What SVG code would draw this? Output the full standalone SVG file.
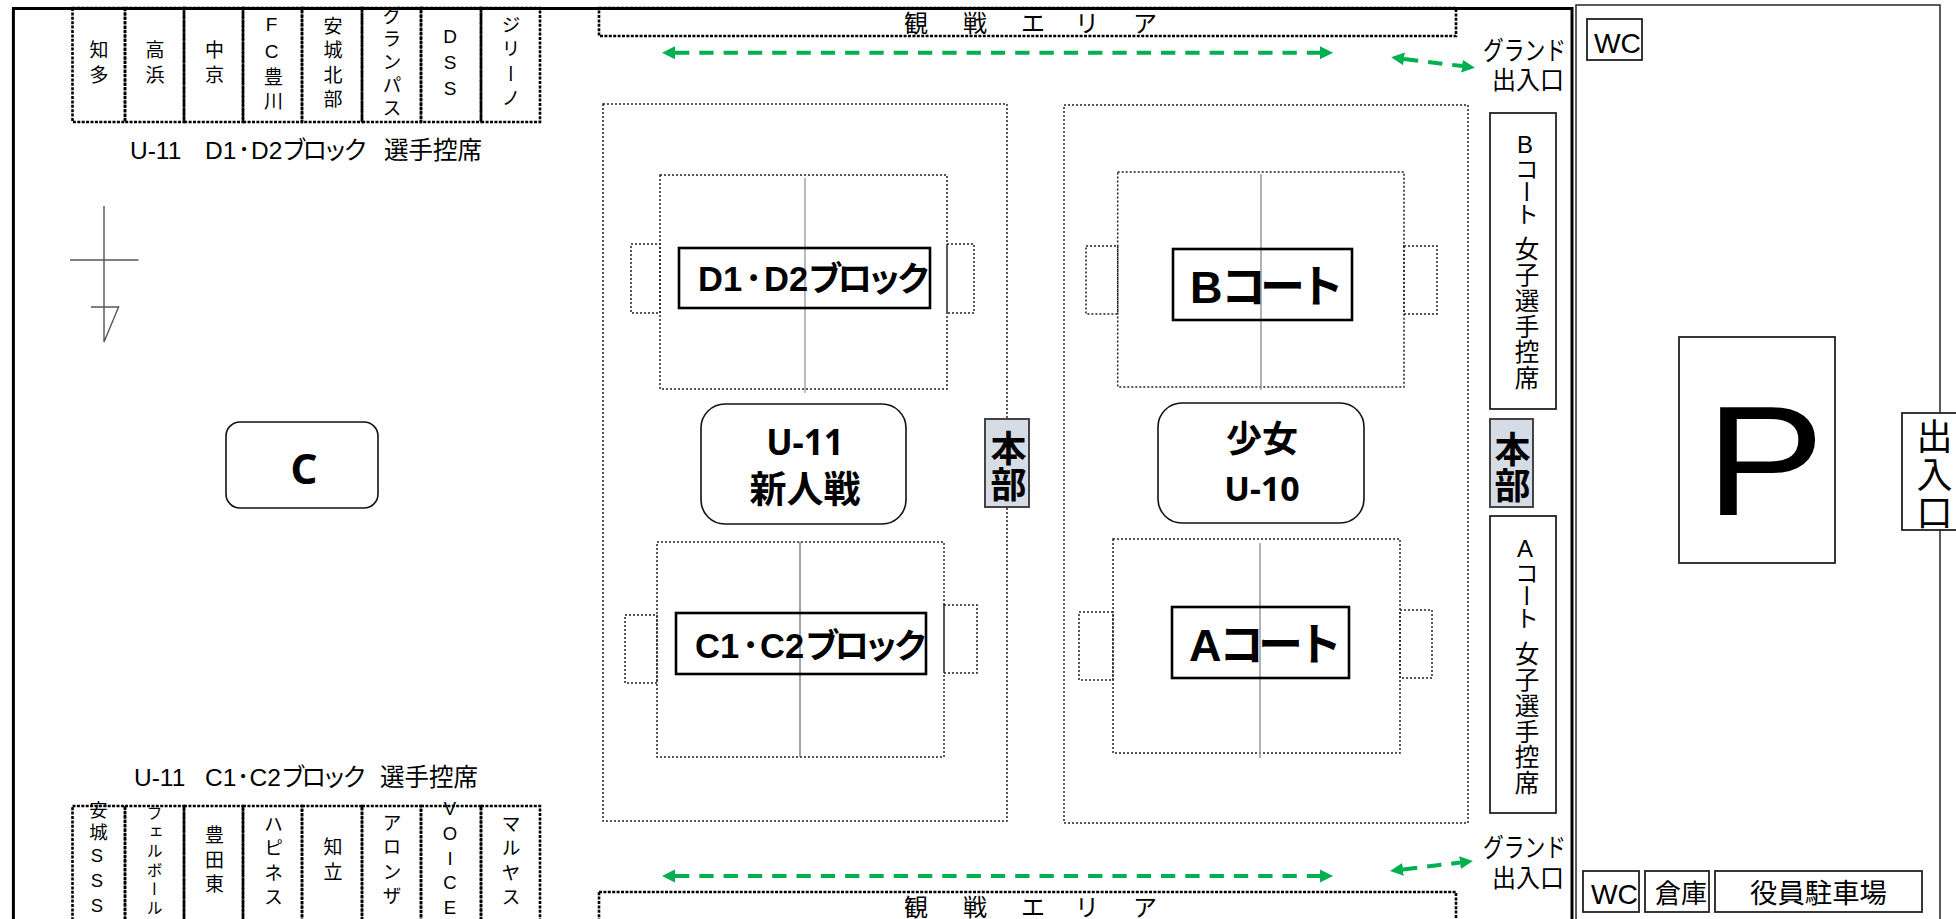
<svg xmlns="http://www.w3.org/2000/svg" width="1956" height="919" viewBox="0 0 1956 919">
<style>
text{font-family:"Liberation Sans","Noto Sans CJK JP",sans-serif;fill:#000;dominant-baseline:central;white-space:pre}
.v{writing-mode:vertical-rl;text-orientation:upright;text-anchor:middle}
.m{text-anchor:middle}
.b{font-family:"Noto Sans","Noto Sans CJK JP",sans-serif;font-weight:700}
.lb{font-weight:700}
.k{letter-spacing:-5px}
.k2{letter-spacing:-6px}
.ck{letter-spacing:-4px}
.seat{fill:none;stroke:#000;stroke-width:2.6;stroke-dasharray:3 1.4}
.fine{fill:none;stroke:#222;stroke-width:1.5;stroke-dasharray:2 2}
.solid{fill:#fff;stroke:#222;stroke-width:1.8}
.lab{fill:none;stroke:#000;stroke-width:2.6}
.hq{fill:#d6dce5;stroke:#444;stroke-width:2}
.round{fill:#fff;stroke:#111;stroke-width:1.6}
.comp{stroke:#555;stroke-width:1.4;fill:none}
.mid{stroke:#999;stroke-width:1.5}
.s{font-size:19px;letter-spacing:5.3px}
.g{stroke:#00b050;stroke-width:4;stroke-dasharray:14.3 10;fill:none;marker-start:url(#ah);marker-end:url(#ah)}
</style>
<defs>
<marker id="ah" markerUnits="userSpaceOnUse" markerWidth="14" markerHeight="14" refX="0" refY="7" orient="auto-start-reverse"><path d="M0 0.5L13 7L0 13.5Z" fill="#00b050"/></marker>
</defs>
<rect width="1956" height="919" fill="#fff"/>

<g id="parking-lot"><rect x="1576" y="5" width="364" height="950" fill="none" stroke="#333" stroke-width="1.6"/></g>

<g id="top-seat-chita"><rect class="seat" x="72.5" y="8" width="52.5" height="114"/><text class="v s" x="97" y="65">知多</text></g>
<g id="top-seat-takahama"><rect class="seat" x="125" y="8" width="59" height="114"/><text class="v s" x="153" y="65">高浜</text></g>
<g id="top-seat-chukyo"><rect class="seat" x="184" y="8" width="59" height="114"/><text class="v s" x="212.5" y="65">中京</text></g>
<g id="top-seat-fc"><rect class="seat" x="243" y="8" width="59" height="114"/><text class="v s" x="271.5" y="65">FC豊川</text></g>
<g id="top-seat-anjo"><rect class="seat" x="302" y="8" width="60" height="114"/><text class="v s" x="331" y="65">安城北部</text></g>
<g id="top-seat-grampus"><rect class="seat" x="362" y="8" width="59" height="114"/><text class="v" x="390" y="64" font-size="19" letter-spacing="4">グランパス</text></g>
<g id="top-seat-dss"><rect class="seat" x="421" y="8" width="60" height="114"/><text class="v s" x="450" y="65">DSS</text></g>
<g id="top-seat-jirino"><rect class="seat" x="481" y="8" width="59" height="114"/><text class="v s" x="509" y="64">ジリーノ</text></g>
<g id="top-caption"><text y="150" font-size="24.5"><tspan x="130">U-11</tspan><tspan x="205">D1</tspan><tspan x="238">･</tspan><tspan x="251">D2</tspan><tspan x="282" class="ck">ブロック</tspan><tspan x="384">選手控席</tspan></text></g>

<g id="compass"><path class="comp" d="M104 206V342L118.6 307H91M70 260H138.5"/></g>

<g id="node-c"><rect class="round" x="226" y="422" width="152" height="86" rx="14"/><text class="m b" x="304" y="467" font-size="42">C</text></g>

<g id="bottom-caption"><text y="777" font-size="24.5"><tspan x="134">U-11</tspan><tspan x="205">C1</tspan><tspan x="237">･</tspan><tspan x="249.5">C2</tspan><tspan x="281" class="ck">ブロック</tspan><tspan x="380">選手控席</tspan></text></g>
<g id="bot-seat-anjo"><rect class="seat" x="72.5" y="806" width="52.5" height="130"/><text class="v" x="97" y="860" font-size="18.5" letter-spacing="3.8">安城SSS</text></g>
<g id="bot-seat-ferbol"><rect class="seat" x="125" y="806" width="59" height="130"/><text class="v" x="153" y="862" font-size="16" letter-spacing="3">フェルボール</text></g>
<g id="bot-seat-toyotahigashi"><rect class="seat" x="184" y="806" width="59" height="130"/><text class="v s" x="212.5" y="862">豊田東</text></g>
<g id="bot-seat-happiness"><rect class="seat" x="243" y="806" width="59" height="130"/><text class="v s" x="271.5" y="863">ハピネス</text></g>
<g id="bot-seat-chiryu"><rect class="seat" x="302" y="806" width="60" height="130"/><text class="v s" x="331" y="862">知立</text></g>
<g id="bot-seat-alonza"><rect class="seat" x="362" y="806" width="59" height="130"/><text class="v s" x="390" y="862">アロンザ</text></g>
<g id="bot-seat-voice"><rect class="seat" x="421" y="806" width="60" height="130"/><text class="v" x="450" y="860" font-size="18.5" letter-spacing="3.8">VOICE</text></g>
<g id="bot-seat-marvas"><rect class="seat" x="481" y="806" width="59" height="130"/><text class="v s" x="509" y="863">マルヤス</text></g>

<g id="view-top"><rect class="seat" x="599" y="8" width="857" height="28"/><g font-size="24"><text class="m" x="916" y="23">観</text><text class="m" x="975" y="23">戦</text><text class="m" x="1033" y="23">エ</text><text class="m" x="1087" y="23">リ</text><text class="m" x="1145" y="23">ア</text></g></g>
<g id="view-bottom"><rect class="seat" x="599" y="892" width="857" height="40"/><g font-size="24"><text class="m" x="916" y="907">観</text><text class="m" x="975" y="907">戦</text><text class="m" x="1033" y="907">エ</text><text class="m" x="1087" y="907">リ</text><text class="m" x="1145" y="907">ア</text></g></g>

<g id="u11-panel"><rect class="fine" x="603" y="104" width="404" height="717"/></g>
<g id="women-panel"><rect class="fine" x="1064" y="105" width="404" height="718"/></g>

<g id="field-d">
<rect class="fine" x="631" y="244" width="29" height="69"/><rect class="fine" x="947" y="244" width="27" height="69"/>
<rect class="fine" x="660" y="175" width="287" height="214"/>
<path d="M805 178V393" stroke="#bbb" stroke-width="2"/>
<rect class="lab" x="679" y="248" width="251" height="60"/>
<text class="lb" y="279" font-size="34.5"><tspan x="698">D1</tspan><tspan x="745">･</tspan><tspan x="764">D2</tspan><tspan x="808" class="k">ブロック</tspan></text>
</g>
<g id="field-c">
<rect class="fine" x="625" y="615" width="32" height="68"/><rect class="fine" x="944" y="605" width="33" height="68"/>
<rect class="fine" x="657" y="542" width="287" height="215"/>
<path d="M800 542V757" stroke="#666" stroke-width="1.2"/>
<rect class="lab" x="676" y="613" width="250" height="61"/>
<text class="lb" y="646" font-size="34.5"><tspan x="695">C1</tspan><tspan x="742">･</tspan><tspan x="760">C2</tspan><tspan x="805" class="k">ブロック</tspan></text>
</g>
<g id="field-b">
<rect class="fine" x="1086" y="246" width="31.7" height="68"/><rect class="fine" x="1404" y="246" width="33" height="68"/>
<rect class="fine" x="1117.7" y="172" width="286.3" height="215"/>
<path class="mid" d="M1261 174V390"/>
<rect class="lab" x="1173" y="249" width="179" height="71"/>
<text class="lb" y="287" font-size="45"><tspan x="1190">B</tspan><tspan x="1221" class="k2">コート</tspan></text>
</g>
<g id="field-a">
<rect class="fine" x="1079" y="612" width="34" height="68"/><rect class="fine" x="1400" y="610" width="32" height="68"/>
<rect class="fine" x="1113" y="539" width="287" height="214"/>
<path class="mid" d="M1260 543V758"/>
<rect class="lab" x="1172" y="607" width="177" height="71"/>
<text class="lb" y="645" font-size="45"><tspan x="1189">A</tspan><tspan x="1219" class="k2">コート</tspan></text>
</g>

<g id="u11-title"><rect class="round" x="701" y="404" width="205" height="120" rx="24"/><text class="m b" x="805" y="441" font-size="35">U-11</text><text class="m b" x="805" y="488" font-size="37">新人戦</text></g>
<g id="girls-title"><rect class="round" x="1158" y="403" width="206" height="120" rx="24"/><text class="m b" x="1262" y="438" font-size="36">少女</text><text class="m b" x="1262" y="488" font-size="34">U-10</text></g>

<g id="hq-left"><rect class="hq" x="985" y="419" width="44" height="88"/><text class="v b" x="1006" y="466" font-size="36">本部</text></g>
<g id="hq-right"><rect class="hq" x="1490" y="419" width="43" height="88"/><text class="v b" x="1510" y="467" font-size="36">本部</text></g>

<g id="b-bench"><rect x="1490" y="113" width="66" height="296" class="solid" fill="none"/><text class="v" x="1525" y="178" font-size="24" letter-spacing="-1.3">Bコート</text><text class="v" x="1525" y="314" font-size="24.5" letter-spacing="1.2">女子選手控席</text></g>
<g id="a-bench"><rect x="1490" y="516" width="66" height="297" class="solid" fill="none"/><text class="v" x="1525" y="582" font-size="24" letter-spacing="-1.3">Aコート</text><text class="v" x="1525" y="719" font-size="24.5" letter-spacing="1.2">女子選手控席</text></g>

<g id="gate-top"><text x="1483" y="51" font-size="26" textLength="83" lengthAdjust="spacingAndGlyphs">グランド</text><text x="1492" y="80" font-size="25" textLength="72" lengthAdjust="spacingAndGlyphs">出入口</text></g>
<g id="gate-bottom"><text x="1483" y="848" font-size="26" textLength="83" lengthAdjust="spacingAndGlyphs">グランド</text><text x="1492" y="878" font-size="25" textLength="72" lengthAdjust="spacingAndGlyphs">出入口</text></g>

<g id="connectors">
<path class="g" d="M675 52.7H1320"/>
<path class="g" d="M675 876H1320"/>
<path class="g" d="M1404 58.9L1462 66.1"/>
<path class="g" d="M1403 869.4L1460 862.6"/>
</g>

<g id="wc-top"><rect class="solid" x="1587" y="19" width="55" height="41"/><text x="1594" y="43" font-size="28" textLength="47" lengthAdjust="spacingAndGlyphs">WC</text></g>
<g id="p-sign"><rect class="solid" x="1679" y="337" width="156" height="226"/><text x="1705.5" y="461" font-size="156" textLength="119" lengthAdjust="spacingAndGlyphs">P</text></g>
<g id="entrance"><rect class="solid" x="1902" y="413" width="60" height="117"/><text class="v" x="1931" y="475" font-size="36" letter-spacing="2">出入口</text></g>
<g id="wc-bottom"><rect class="solid" x="1583" y="871" width="56" height="41"/><text x="1591" y="894" font-size="28" textLength="47" lengthAdjust="spacingAndGlyphs">WC</text></g>
<g id="storage"><rect class="solid" x="1645" y="871" width="64" height="41"/><text x="1655" y="894" font-size="26" textLength="52" lengthAdjust="spacingAndGlyphs">倉庫</text></g>
<g id="staff-parking"><rect class="solid" x="1715" y="871" width="207" height="41"/><text x="1750" y="894" font-size="27" textLength="137" lengthAdjust="spacingAndGlyphs">役員駐車場</text></g>

<g id="frame"><rect x="13.4" y="8.5" width="1558.6" height="950" fill="none" stroke="#000" stroke-width="3"/></g>
</svg>
